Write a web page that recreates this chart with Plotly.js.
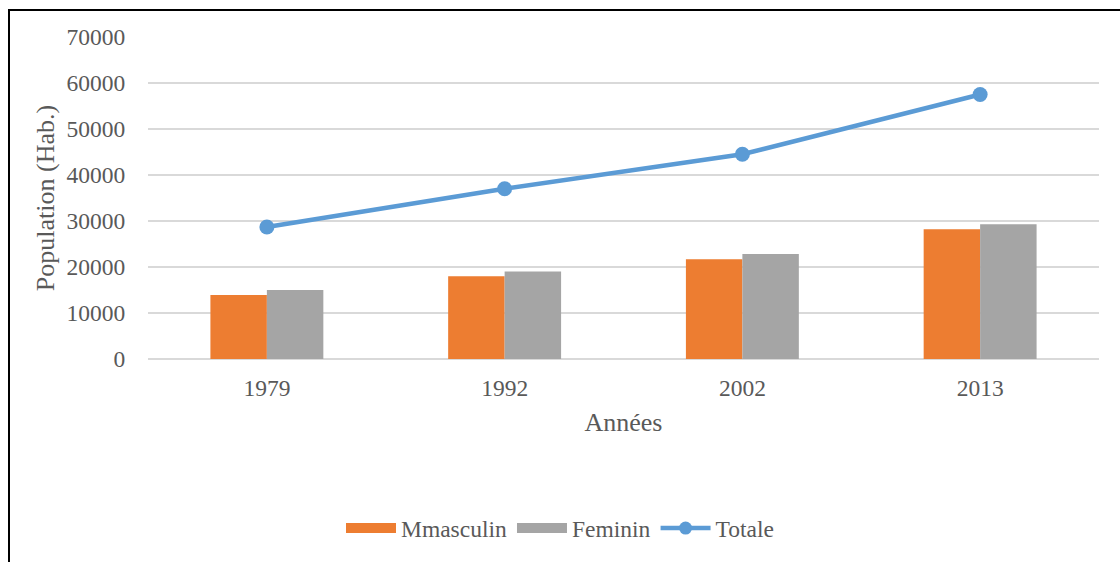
<!DOCTYPE html>
<html>
<head>
<meta charset="utf-8">
<script src="https://cdn.plot.ly/plotly-3.0.1.min.js"></script>
<style>
  html, body { margin: 0; padding: 0; background: #fff; }
  #wrap { position: relative; width: 1120px; height: 562px; overflow: hidden; }
  #chart { position: absolute; left: 0; top: 0; width: 1120px; height: 562px; }
  #frame { position: absolute; left: 8px; top: 9px; width: 1200px; height: 700px;
           border-left: 2px solid #000; border-top: 2px solid #000; pointer-events: none; }
</style>
</head>
<body>
<div id="wrap">
  <div id="chart"></div>
  <div id="frame"></div>
</div>
<script>
const years = ['1979', '1992', '2002', '2013'];
const masculin = [13900, 18000, 21700, 28200];
const feminin = [15000, 19000, 22800, 29300];
const totale = [28700, 37000, 44500, 57500];
const yTicks = [0, 10000, 20000, 30000, 40000, 50000, 60000, 70000];

const cOrange = '#ED7D31', cGray = '#A5A5A5', cBlue = '#5B9BD5';
const font = 'Liberation Serif, Times New Roman, serif';
const textColor = '#595959';

const traces = [
  { type: 'bar', x: years, y: masculin, name: 'Mmasculin', marker: { color: cOrange },
    showlegend: false, legendgroup: 'm', hoverinfo: 'x+y' },
  { type: 'bar', x: years, y: feminin, name: 'Feminin', marker: { color: cGray },
    showlegend: false, legendgroup: 'f', hoverinfo: 'x+y' },
  { type: 'scatter', mode: 'lines+markers', x: years, y: totale, name: 'Totale',
    line: { color: cBlue, width: 4.5 }, marker: { color: cBlue, size: 15 }, showlegend: false,
    legendgroup: 't' },
  // legend entries
  { type: 'scatter', mode: 'lines', x: [null], y: [null], name: 'Mmasculin',
    line: { color: cOrange, width: 11 }, legendgroup: 'm' },
  { type: 'scatter', mode: 'lines', x: [null], y: [null], name: 'Feminin',
    line: { color: cGray, width: 11 }, legendgroup: 'f' },
  { type: 'scatter', mode: 'lines+markers', x: [null], y: [null], name: 'Totale',
    line: { color: cBlue, width: 4.5 }, marker: { color: cBlue, size: 13 }, legendgroup: 't' }
];

const layout = {
  width: 1120, height: 562,
  margin: { l: 148, r: 21, t: 37, b: 203 },
  paper_bgcolor: '#fff', plot_bgcolor: '#fff',
  font: { family: font, color: textColor, size: 23 },
  barmode: 'group', bargap: 0.525, bargroupgap: 0,
  xaxis: {
    type: 'category', categoryorder: 'array', categoryarray: years,
    showgrid: false, zeroline: false, showline: false,
    ticks: 'outside', ticklen: 8, tickcolor: 'rgba(0,0,0,0)',
    tickfont: { family: font, size: 23.5, color: textColor },
    title: { text: 'Années', font: { family: font, size: 26, color: textColor }, standoff: 12 }
  },
  yaxis: {
    range: [0, 70000], tickvals: yTicks, ticktext: yTicks.map(String),
    showgrid: true, gridcolor: '#D9D9D9', gridwidth: 1.5,
    zeroline: true, zerolinecolor: '#D9D9D9', zerolinewidth: 1.5,
    showline: false, ticks: 'outside', ticklen: 17, tickcolor: 'rgba(0,0,0,0)',
    tickfont: { family: font, size: 23.5, color: textColor },
    title: { text: 'Population (Hab.)', font: { family: font, size: 26, color: textColor }, standoff: 4 }
  },
  legend: {
    orientation: 'h', xref: 'container', yref: 'container',
    x: 0.5, xanchor: 'center', y: 0.06, yanchor: 'middle',
    font: { family: font, size: 23.5, color: textColor },
    itemwidth: 50, traceorder: 'normal'
  },
  showlegend: true
};

Plotly.newPlot('chart', traces, layout, { displayModeBar: false, staticPlot: true });
</script>
</body>
</html>
